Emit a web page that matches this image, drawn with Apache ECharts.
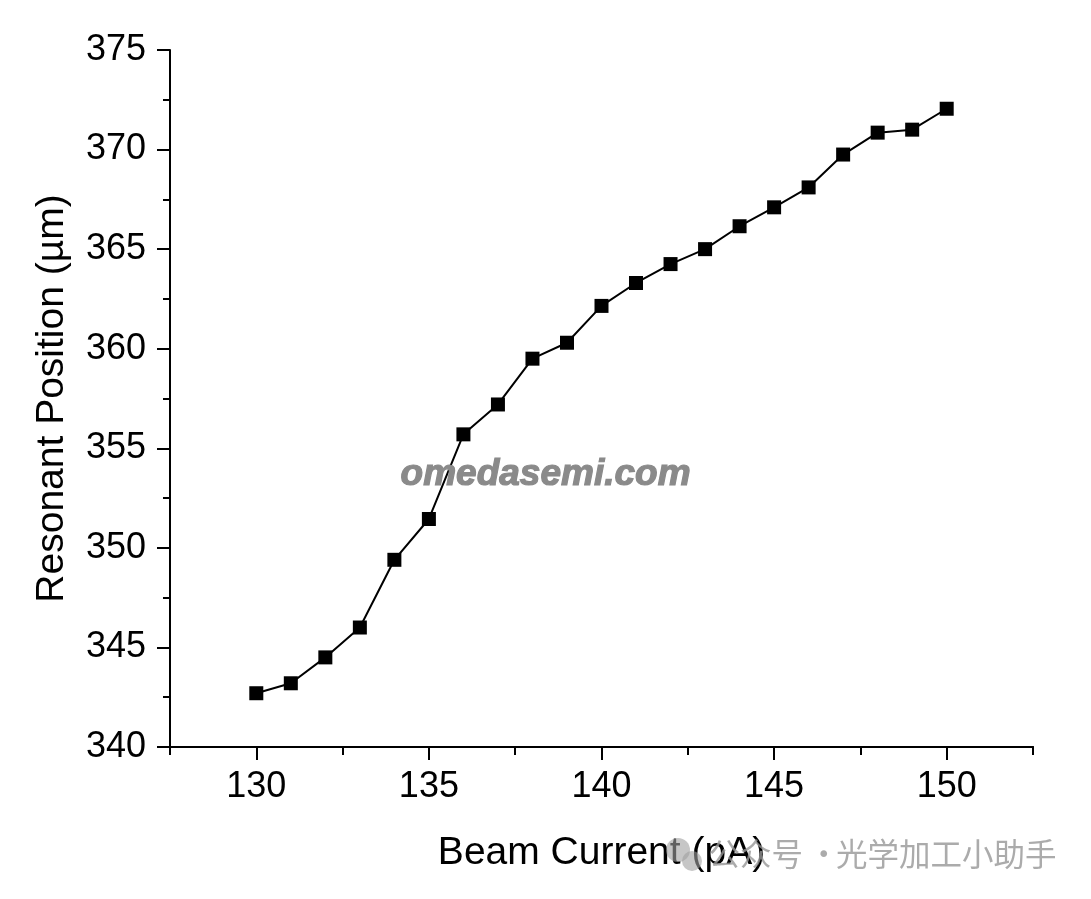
<!DOCTYPE html>
<html>
<head>
<meta charset="utf-8">
<script src="https://cdn.jsdelivr.net/npm/echarts@6/dist/echarts.min.js"></script>
<style>html,body{margin:0;padding:0;background:#fff}#c{width:1091px;height:899px}</style>
</head>
<body>
<div id="c"></div>
<script>
const beamCurrent = [130,131,132,133,134,135,136,137,138,139,140,141,142,143,144,145,146,147,148,149,150];
const resonantPosition = [342.7,343.2,344.5,346.0,349.4,351.45,355.7,357.2,359.5,360.3,362.15,363.3,364.25,365.0,366.15,367.1,368.1,369.75,370.85,371.0,372.05];
const xMajorTicks = [130,135,140,145,150];
const xTitle = 'Beam Current (pA)';
const yTitle = 'Resonant Position (µm)';
const watermark1 = 'omedasemi.com';
const watermark2a = '公众号';
const watermark2b = '·';
const watermark2c = '光学加工小助手';

const font = 'Liberation Sans, Arial, sans-serif';
const cjk = '"Noto Sans CJK SC", sans-serif';
const chart = echarts.init(document.getElementById('c'), null, {renderer:'canvas'});
const axisLine = {show:true, lineStyle:{color:'#000', width:2}};
const wmColor = 'rgba(150,150,150,0.8)';
chart.setOption({
  animation:false,
  backgroundColor:'#fff',
  grid:{left:170, right:58, top:50, bottom:152, containLabel:false},
  xAxis:[{
    type:'value', min:127.5, max:152.5, interval:2.5, position:'bottom',
    axisLine:axisLine,
    axisTick:{show:true, inside:false, length:8, lineStyle:{color:'#000', width:2}},
    axisLabel:{show:false},
    splitLine:{show:false}
  },{
    type:'value', min:127.5, max:152.5, position:'bottom',
    axisLine:axisLine,
    axisTick:{show:true, inside:false, length:13, customValues:xMajorTicks, lineStyle:{color:'#000', width:2}},
    axisLabel:{show:true, customValues:xMajorTicks, margin:22, fontSize:36, color:'#000', fontFamily:font},
    splitLine:{show:false},
    name:xTitle, nameLocation:'middle', nameGap:87,
    nameTextStyle:{fontSize:39, color:'#000', fontFamily:font}
  }],
  yAxis:{
    type:'value', min:340, max:375, interval:5,
    axisLine:axisLine,
    axisTick:{show:true, inside:false, length:13, lineStyle:{color:'#000', width:2}},
    minorTick:{show:true, splitNumber:2, length:7, lineStyle:{color:'#000', width:2}},
    axisLabel:{margin:24, fontSize:36, color:'#000', fontFamily:font},
    splitLine:{show:false},
    name:yTitle, nameLocation:'middle', nameGap:98,
    nameTextStyle:{fontSize:39, color:'#000', fontFamily:font}
  },
  series:[{
    type:'line', xAxisIndex:1,
    data:beamCurrent.map((x,i)=>[x,resonantPosition[i]]),
    symbol:'rect', symbolSize:14,
    lineStyle:{color:'#000', width:2},
    itemStyle:{color:'#000'}
  }],
  graphic:[
    {type:'text', left:400, top:456, z:100, style:{text:watermark1, fill:'#8a8a8a', stroke:'#8a8a8a', lineWidth:1.2, font:'italic bold 37px Liberation Sans, Arial, sans-serif'}},
    {type:'circle', z:100, shape:{cx:678, cy:850, r:12}, style:{fill:'rgba(160,160,160,0.6)'}},
    {type:'circle', z:100, shape:{cx:692, cy:861, r:10}, style:{fill:'rgba(160,160,160,0.6)'}},
    {type:'text', right:1091-803, top:838, z:100, style:{text:watermark2a, fill:wmColor, font:'31.5px ' + cjk}},
    {type:'text', left:808, top:838, z:100, style:{text:watermark2b, fill:wmColor, font:'31.5px ' + cjk}},
    {type:'text', left:836, top:838, z:100, style:{text:watermark2c, fill:wmColor, font:'31.5px ' + cjk}}
  ]
});
</script>
</body>
</html>
